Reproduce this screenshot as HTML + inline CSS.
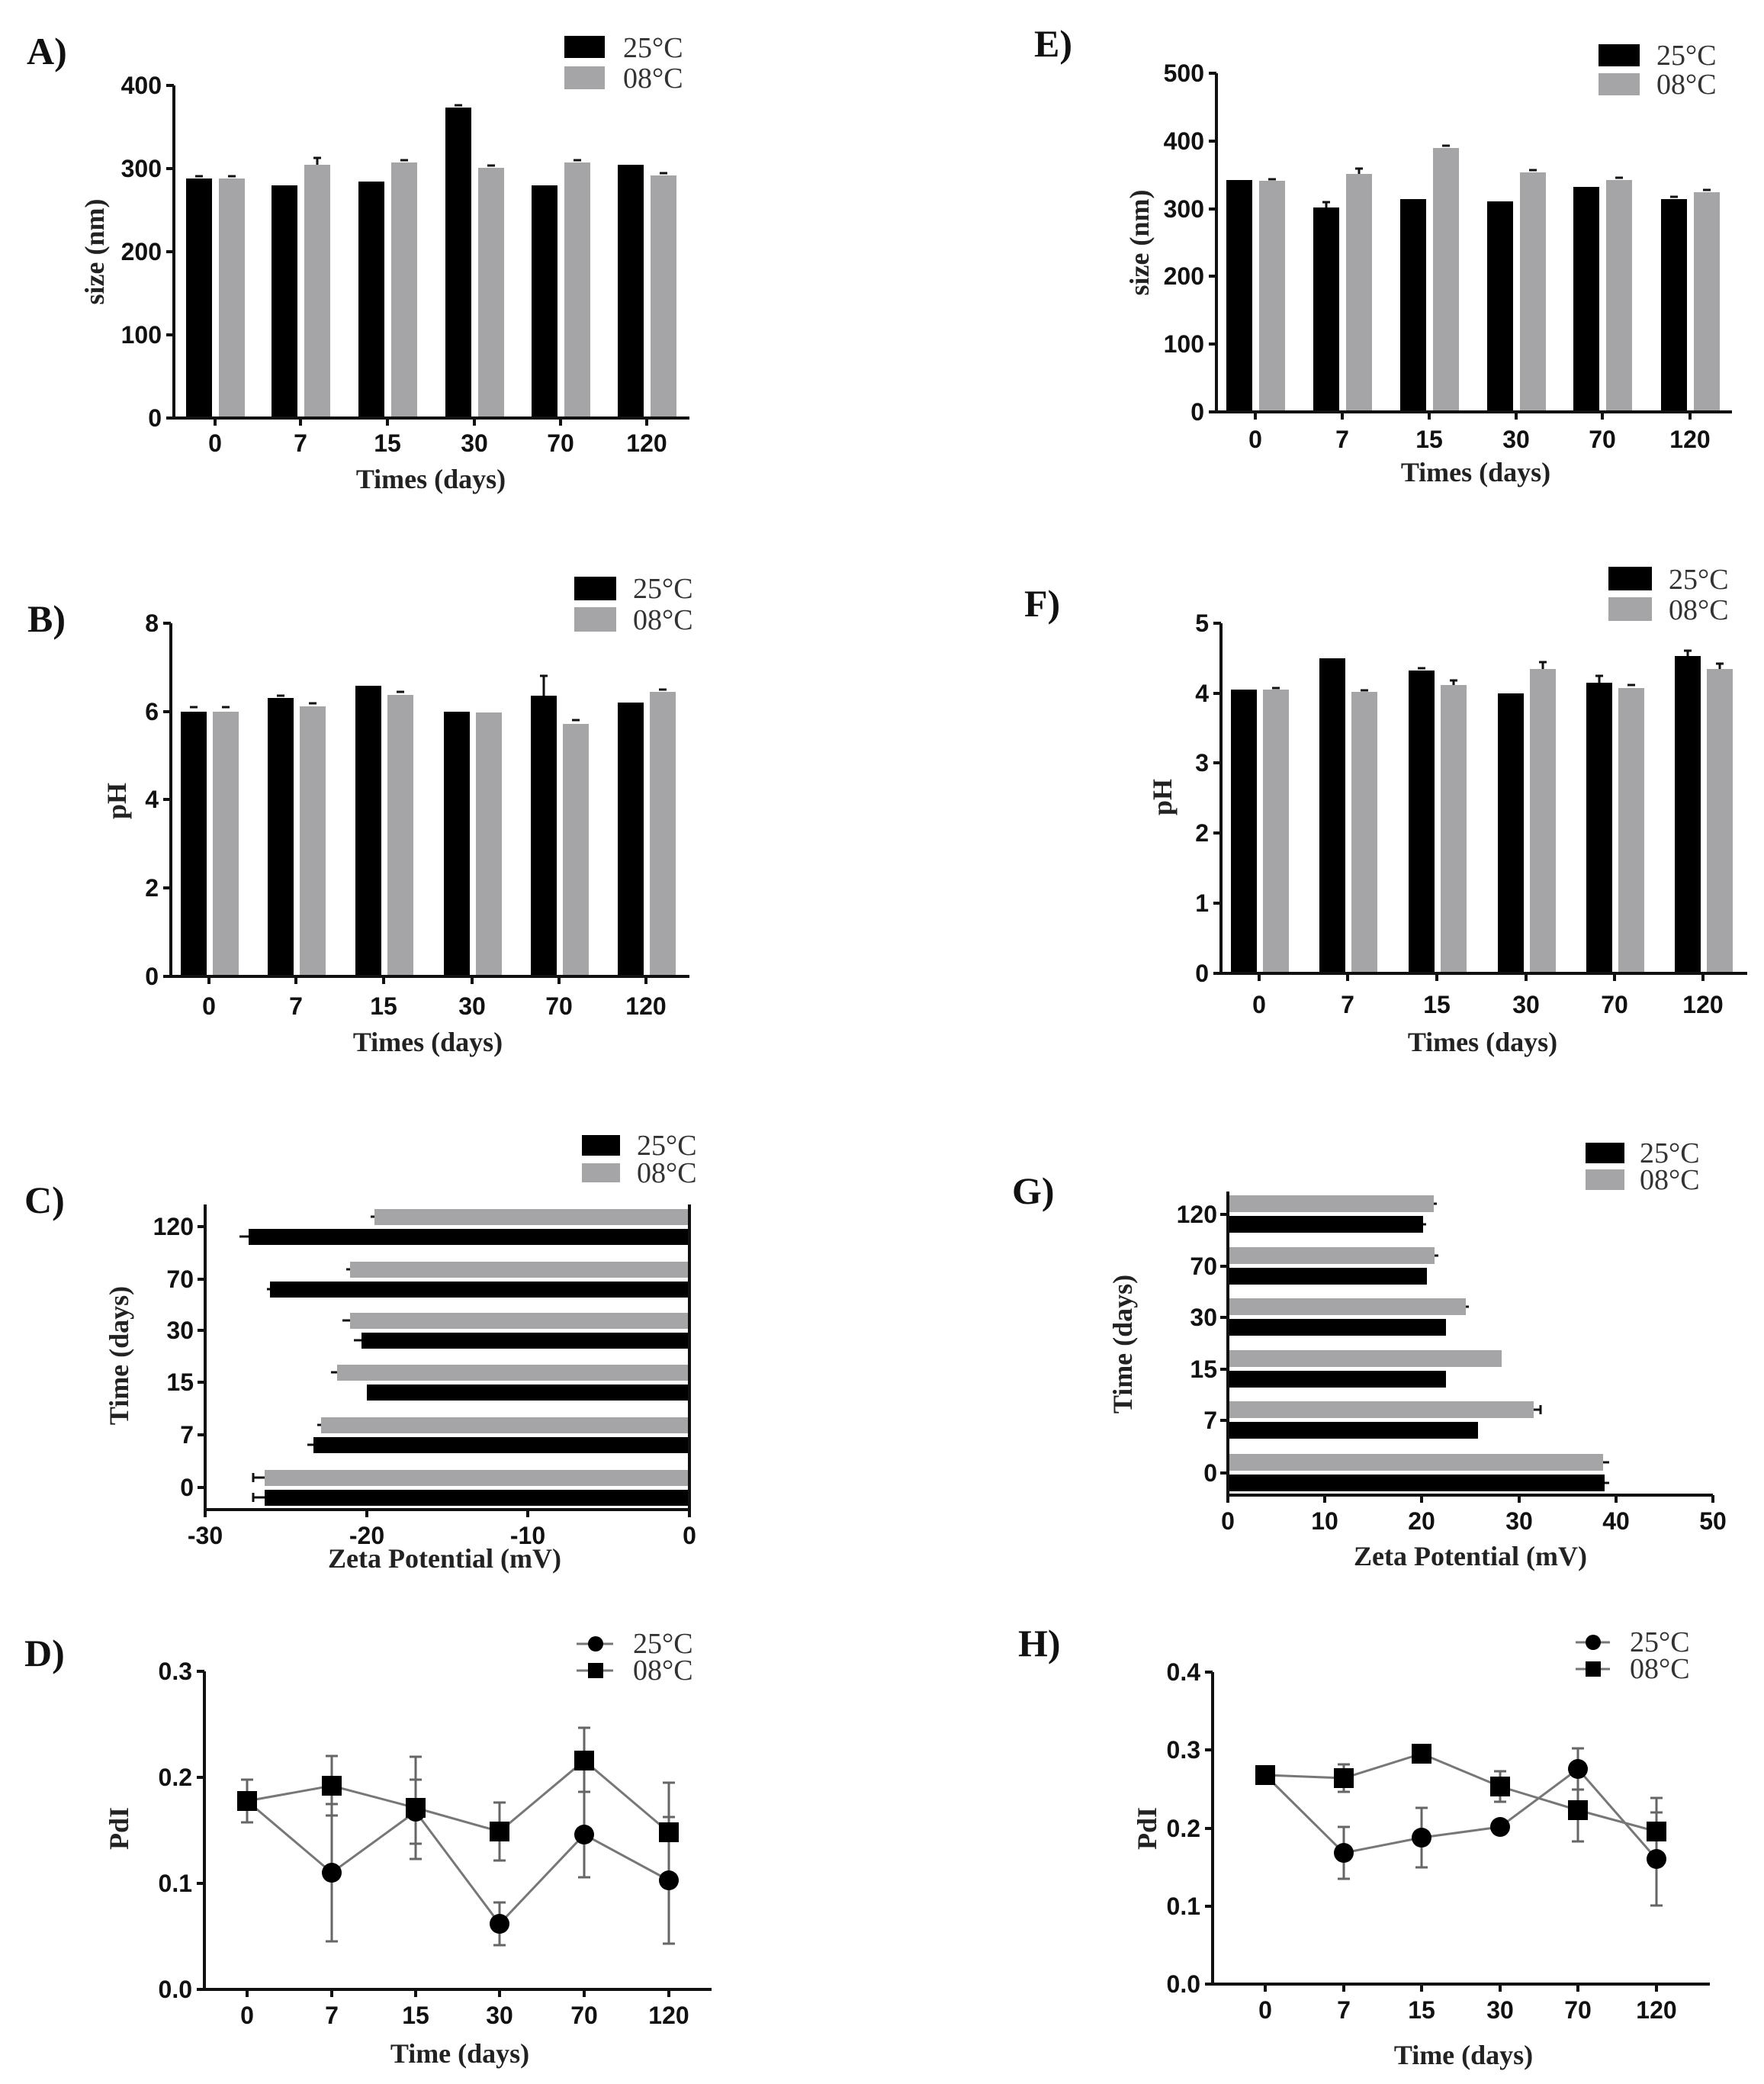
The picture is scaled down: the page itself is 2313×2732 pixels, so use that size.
<!DOCTYPE html>
<html><head><meta charset="utf-8"><style>
html,body{margin:0;padding:0;background:#fff}
svg{display:block}
.t{font-family:"Liberation Sans",sans-serif;font-weight:bold;font-size:32px;fill:#111}
.ti{font-family:"Liberation Serif",serif;font-weight:bold;font-size:36px;fill:#222}
.lg{font-family:"Liberation Serif",serif;font-size:38px;fill:#333}
.pl{font-family:"Liberation Serif",serif;font-weight:bold;font-size:50px;fill:#111}
.ax{stroke:#111;stroke-width:4;fill:none}
.e{stroke:#111;stroke-width:3}
.ln{stroke:#777;stroke-width:3;fill:none}
</style></head><body>
<svg width="2313" height="2732" viewBox="0 0 2313 2732" xmlns="http://www.w3.org/2000/svg">
<rect width="2313" height="2732" fill="#fff"/>

<!-- ============ A ============ -->
<text class="pl" x="35" y="84">A)</text>
<rect x="740" y="47" width="53" height="29" fill="#000"/><rect x="740" y="87" width="53" height="30" fill="#a5a5a7"/>
<text class="lg" x="817" y="75">25°C</text><text class="lg" x="817" y="115">08°C</text>
<g fill="#000">
<rect x="244" y="234" width="34" height="314"/><rect x="356" y="243" width="34" height="305"/><rect x="470" y="238" width="34" height="310"/>
<rect x="584" y="141" width="34" height="407"/><rect x="697" y="243" width="34" height="305"/><rect x="810" y="216" width="34" height="332"/>
</g>
<g fill="#a5a5a7">
<rect x="287" y="234" width="34" height="314"/><rect x="399" y="216" width="34" height="332"/><rect x="513" y="213" width="34" height="335"/>
<rect x="627" y="220" width="34" height="328"/><rect x="740" y="213" width="34" height="335"/><rect x="853" y="230" width="34" height="318"/>
</g>
<g class="e">
<line x1="256" y1="231" x2="266" y2="231"/><line x1="299" y1="231" x2="309" y2="231"/>
<line x1="411" y1="207" x2="421" y2="207"/><line x1="416" y1="207" x2="416" y2="216"/>
<line x1="596" y1="138" x2="606" y2="138"/><line x1="525" y1="210" x2="535" y2="210"/>
<line x1="639" y1="217" x2="649" y2="217"/><line x1="752" y1="210" x2="762" y2="210"/><line x1="865" y1="227" x2="875" y2="227"/>
</g>
<path class="ax" d="M228,112 V548 M218,548 H904 M218,112 H228 M218,221 H228 M218,330 H228 M218,439 H228 M282,548 V558 M394,548 V558 M508,548 V558 M622,548 V558 M735,548 V558 M848,548 V558"/>
<g class="t" text-anchor="end"><text x="212" y="559">0</text><text x="212" y="450">100</text><text x="212" y="341">200</text><text x="212" y="232">300</text><text x="212" y="123">400</text></g>
<g class="t" text-anchor="middle"><text x="282" y="592">0</text><text x="394" y="592">7</text><text x="508" y="592">15</text><text x="622" y="592">30</text><text x="735" y="592">70</text><text x="848" y="592">120</text></g>
<text class="ti" x="565" y="640" text-anchor="middle">Times (days)</text>
<text class="ti" transform="translate(136,330) rotate(-90)" text-anchor="middle">size (nm)</text>

<!-- ============ B ============ -->
<text class="pl" x="36" y="828">B)</text>
<rect x="753" y="756" width="55" height="31" fill="#000"/><rect x="753" y="796" width="55" height="32" fill="#a5a5a7"/>
<text class="lg" x="830" y="784">25°C</text><text class="lg" x="830" y="825">08°C</text>
<g fill="#000">
<rect x="237" y="933" width="34" height="347"/><rect x="351" y="915" width="34" height="365"/><rect x="466" y="899" width="34" height="381"/>
<rect x="582" y="933" width="34" height="347"/><rect x="696" y="912" width="34" height="368"/><rect x="810" y="921" width="34" height="359"/>
</g>
<g fill="#a5a5a7">
<rect x="279" y="933" width="34" height="347"/><rect x="393" y="926" width="34" height="354"/><rect x="508" y="911" width="34" height="369"/>
<rect x="624" y="934" width="34" height="346"/><rect x="738" y="949" width="34" height="331"/><rect x="852" y="907" width="34" height="373"/>
</g>
<g class="e">
<line x1="249" y1="927" x2="259" y2="927"/><line x1="291" y1="927" x2="301" y2="927"/>
<line x1="363" y1="912" x2="373" y2="912"/><line x1="405" y1="922" x2="415" y2="922"/>
<line x1="520" y1="907" x2="530" y2="907"/>
<line x1="708" y1="886" x2="718" y2="886"/><line x1="713" y1="886" x2="713" y2="912"/>
<line x1="750" y1="944" x2="760" y2="944"/><line x1="864" y1="904" x2="874" y2="904"/>
</g>
<path class="ax" d="M224,817 V1280 M214,1280 H904 M214,817 H224 M214,933 H224 M214,1048 H224 M214,1164 H224 M274,1280 V1290 M388,1280 V1290 M503,1280 V1290 M619,1280 V1290 M733,1280 V1290 M847,1280 V1290"/>
<g class="t" text-anchor="end"><text x="208" y="1291">0</text><text x="208" y="1175">2</text><text x="208" y="1059">4</text><text x="208" y="944">6</text><text x="208" y="828">8</text></g>
<g class="t" text-anchor="middle"><text x="274" y="1330">0</text><text x="388" y="1330">7</text><text x="503" y="1330">15</text><text x="619" y="1330">30</text><text x="733" y="1330">70</text><text x="847" y="1330">120</text></g>
<text class="ti" x="561" y="1378" text-anchor="middle">Times (days)</text>
<text class="ti" transform="translate(165,1050) rotate(-90)" text-anchor="middle">pH</text>

<!-- ============ C ============ -->
<text class="pl" x="32" y="1590">C)</text>
<rect x="763" y="1488" width="50" height="27" fill="#000"/><rect x="763" y="1525" width="50" height="25" fill="#a5a5a7"/>
<text class="lg" x="835" y="1514">25°C</text><text class="lg" x="835" y="1550">08°C</text>
<g fill="#a5a5a7">
<rect x="491" y="1585" width="413" height="21"/><rect x="459" y="1654" width="445" height="21"/><rect x="459" y="1721" width="445" height="21"/>
<rect x="442" y="1789" width="462" height="21"/><rect x="421" y="1858" width="483" height="21"/><rect x="347" y="1927" width="557" height="21"/>
</g>
<g fill="#000">
<rect x="326" y="1611" width="578" height="21"/><rect x="354" y="1680" width="550" height="21"/><rect x="474" y="1747" width="430" height="21"/>
<rect x="481" y="1815" width="423" height="21"/><rect x="411" y="1884" width="493" height="21"/><rect x="347" y="1953" width="557" height="21"/>
</g>
<g class="e">
<line x1="486" y1="1595" x2="491" y2="1595"/><line x1="314" y1="1621" x2="326" y2="1621"/>
<line x1="454" y1="1664" x2="459" y2="1664"/><line x1="350" y1="1690" x2="354" y2="1690"/>
<line x1="449" y1="1731" x2="459" y2="1731"/><line x1="464" y1="1757" x2="474" y2="1757"/>
<line x1="434" y1="1799" x2="442" y2="1799"/><line x1="416" y1="1868" x2="421" y2="1868"/><line x1="403" y1="1894" x2="411" y2="1894"/>
<line x1="332" y1="1937" x2="347" y2="1937"/><line x1="332" y1="1963" x2="347" y2="1963"/>
<line x1="332" y1="1931" x2="332" y2="1943"/><line x1="332" y1="1957" x2="332" y2="1969"/>
</g>
<path class="ax" d="M269,1579 V1979 M269,1979 H904 M904,1579 V1989 M269,1979 V1989 M481,1979 V1989 M692,1979 V1989 M259,1608 H269 M259,1677 H269 M259,1744 H269 M259,1812 H269 M259,1881 H269 M259,1950 H269"/>
<g class="t" text-anchor="end"><text x="254" y="1619">120</text><text x="254" y="1688">70</text><text x="254" y="1755">30</text><text x="254" y="1823">15</text><text x="254" y="1892">7</text><text x="254" y="1961">0</text></g>
<g class="t" text-anchor="middle"><text x="269" y="2024">-30</text><text x="481" y="2024">-20</text><text x="692" y="2024">-10</text><text x="904" y="2024">0</text></g>
<text class="ti" x="583" y="2055" text-anchor="middle">Zeta Potential (mV)</text>
<text class="ti" transform="translate(168,1777) rotate(-90)" text-anchor="middle">Time  (days)</text>

<!-- ============ D ============ -->
<text class="pl" x="32" y="2184">D)</text>
<line class="ln" x1="756" y1="2155" x2="804" y2="2155"/><circle cx="781" cy="2155" r="10" fill="#000"/>
<line class="ln" x1="756" y1="2190" x2="804" y2="2190"/><rect x="771" y="2180" width="20" height="20" fill="#000"/>
<text class="lg" x="830" y="2167">25°C</text><text class="lg" x="830" y="2202">08°C</text>
<polyline class="ln" points="324,2361 435,2455 545,2375 655,2522 766,2405 877,2465"/>
<polyline class="ln" points="324,2361 435,2341 545,2370 655,2401 766,2308 877,2402"/>
<g stroke="#666" stroke-width="3">
<path d="M324,2333 V2389 M316,2333 H332 M316,2389 H332"/>
<path d="M435,2365 V2545 M427,2365 H443 M427,2545 H443 M435,2302 V2380 M427,2302 H443 M427,2380 H443"/>
<path d="M545,2333 V2417 M537,2333 H553 M537,2417 H553 M545,2303 V2437 M537,2303 H553 M537,2437 H553"/>
<path d="M655,2494 V2550 M647,2494 H663 M647,2550 H663 M655,2363 V2439 M647,2363 H663 M647,2439 H663"/>
<path d="M766,2349 V2461 M758,2349 H774 M758,2461 H774 M766,2265 V2351 M758,2265 H774"/>
<path d="M877,2382 V2548 M869,2382 H885 M869,2548 H885 M877,2337 V2467 M869,2337 H885"/>
</g>
<g fill="#000">
<circle cx="324" cy="2361" r="13"/><circle cx="435" cy="2455" r="13"/><circle cx="545" cy="2375" r="13"/><circle cx="655" cy="2522" r="13"/><circle cx="766" cy="2405" r="13"/><circle cx="877" cy="2465" r="13"/>
<rect x="311" y="2348" width="26" height="26"/><rect x="422" y="2328" width="26" height="26"/><rect x="532" y="2357" width="26" height="26"/><rect x="642" y="2388" width="26" height="26"/><rect x="753" y="2295" width="26" height="26"/><rect x="864" y="2389" width="26" height="26"/>
</g>
<path class="ax" d="M268,2191 V2608 M258,2608 H933 M258,2191 H268 M258,2330 H268 M258,2469 H268 M324,2608 V2618 M435,2608 V2618 M545,2608 V2618 M655,2608 V2618 M766,2608 V2618 M877,2608 V2618"/>
<g class="t" text-anchor="end"><text x="252" y="2619">0.0</text><text x="252" y="2480">0.1</text><text x="252" y="2341">0.2</text><text x="252" y="2202">0.3</text></g>
<g class="t" text-anchor="middle"><text x="324" y="2653">0</text><text x="435" y="2653">7</text><text x="545" y="2653">15</text><text x="655" y="2653">30</text><text x="766" y="2653">70</text><text x="877" y="2653">120</text></g>
<text class="ti" x="603" y="2704" text-anchor="middle">Time  (days)</text>
<text class="ti" transform="translate(168,2397) rotate(-90)" text-anchor="middle">PdI</text>

<!-- ============ E ============ -->
<text class="pl" x="1356" y="74">E)</text>
<rect x="2096" y="58" width="54" height="29" fill="#000"/><rect x="2096" y="96" width="54" height="29" fill="#a5a5a7"/>
<text class="lg" x="2172" y="85">25°C</text><text class="lg" x="2172" y="123">08°C</text>
<g fill="#000">
<rect x="1608" y="236" width="34" height="304"/><rect x="1722" y="272" width="34" height="268"/><rect x="1836" y="261" width="34" height="279"/>
<rect x="1950" y="264" width="34" height="276"/><rect x="2063" y="245" width="34" height="295"/><rect x="2178" y="261" width="34" height="279"/>
</g>
<g fill="#a5a5a7">
<rect x="1651" y="237" width="34" height="303"/><rect x="1765" y="228" width="34" height="312"/><rect x="1879" y="194" width="34" height="346"/>
<rect x="1993" y="226" width="34" height="314"/><rect x="2106" y="236" width="34" height="304"/><rect x="2221" y="252" width="34" height="288"/>
</g>
<g class="e">
<line x1="1734" y1="265" x2="1744" y2="265"/><line x1="1739" y1="265" x2="1739" y2="272"/>
<line x1="1777" y1="221" x2="1787" y2="221"/><line x1="1782" y1="221" x2="1782" y2="228"/>
<line x1="1891" y1="191" x2="1901" y2="191"/><line x1="2005" y1="223" x2="2015" y2="223"/>
<line x1="2118" y1="233" x2="2128" y2="233"/><line x1="2190" y1="258" x2="2200" y2="258"/><line x1="2233" y1="249" x2="2243" y2="249"/>
<line x1="1663" y1="235" x2="1673" y2="235"/>
</g>
<path class="ax" d="M1595,96 V540 M1585,540 H2271 M1585,96 H1595 M1585,185 H1595 M1585,274 H1595 M1585,362 H1595 M1585,451 H1595 M1646,540 V550 M1760,540 V550 M1874,540 V550 M1988,540 V550 M2101,540 V550 M2216,540 V550"/>
<g class="t" text-anchor="end"><text x="1579" y="551">0</text><text x="1579" y="462">100</text><text x="1579" y="373">200</text><text x="1579" y="285">300</text><text x="1579" y="196">400</text><text x="1579" y="107">500</text></g>
<g class="t" text-anchor="middle"><text x="1646" y="587">0</text><text x="1760" y="587">7</text><text x="1874" y="587">15</text><text x="1988" y="587">30</text><text x="2101" y="587">70</text><text x="2216" y="587">120</text></g>
<text class="ti" x="1935" y="631" text-anchor="middle">Times (days)</text>
<text class="ti" transform="translate(1506,318) rotate(-90)" text-anchor="middle">size (nm)</text>

<!-- ============ F ============ -->
<text class="pl" x="1343" y="808">F)</text>
<rect x="2109" y="743" width="57" height="31" fill="#000"/><rect x="2109" y="783" width="57" height="31" fill="#a5a5a7"/>
<text class="lg" x="2188" y="772">25°C</text><text class="lg" x="2188" y="812">08°C</text>
<g fill="#000">
<rect x="1614" y="904" width="34" height="372"/><rect x="1730" y="863" width="34" height="413"/><rect x="1847" y="879" width="34" height="397"/>
<rect x="1964" y="909" width="34" height="367"/><rect x="2080" y="895" width="34" height="381"/><rect x="2196" y="860" width="34" height="416"/>
</g>
<g fill="#a5a5a7">
<rect x="1656" y="904" width="34" height="372"/><rect x="1772" y="907" width="34" height="369"/><rect x="1889" y="898" width="34" height="378"/>
<rect x="2006" y="877" width="34" height="399"/><rect x="2122" y="902" width="34" height="374"/><rect x="2238" y="877" width="34" height="399"/>
</g>
<g class="e">
<line x1="1668" y1="902" x2="1678" y2="902"/><line x1="1784" y1="905" x2="1794" y2="905"/>
<line x1="1859" y1="876" x2="1869" y2="876"/><line x1="1901" y1="892" x2="1911" y2="892"/><line x1="1906" y1="892" x2="1906" y2="898"/>
<line x1="2018" y1="868" x2="2028" y2="868"/><line x1="2023" y1="868" x2="2023" y2="877"/>
<line x1="2092" y1="886" x2="2102" y2="886"/><line x1="2097" y1="886" x2="2097" y2="895"/>
<line x1="2134" y1="898" x2="2144" y2="898"/>
<line x1="2208" y1="853" x2="2218" y2="853"/><line x1="2213" y1="853" x2="2213" y2="860"/>
<line x1="2250" y1="870" x2="2260" y2="870"/><line x1="2255" y1="870" x2="2255" y2="877"/>
</g>
<path class="ax" d="M1601,817 V1276 M1591,1276 H2291 M1591,817 H1601 M1591,909 H1601 M1591,1000 H1601 M1591,1092 H1601 M1591,1184 H1601 M1651,1276 V1286 M1767,1276 V1286 M1884,1276 V1286 M2001,1276 V1286 M2117,1276 V1286 M2233,1276 V1286"/>
<g class="t" text-anchor="end"><text x="1585" y="1287">0</text><text x="1585" y="1195">1</text><text x="1585" y="1103">2</text><text x="1585" y="1011">3</text><text x="1585" y="920">4</text><text x="1585" y="828">5</text></g>
<g class="t" text-anchor="middle"><text x="1651" y="1328">0</text><text x="1767" y="1328">7</text><text x="1884" y="1328">15</text><text x="2001" y="1328">30</text><text x="2117" y="1328">70</text><text x="2233" y="1328">120</text></g>
<text class="ti" x="1944" y="1378" text-anchor="middle">Times (days)</text>
<text class="ti" transform="translate(1536,1045) rotate(-90)" text-anchor="middle">pH</text>

<!-- ============ G ============ -->
<text class="pl" x="1327" y="1578">G)</text>
<rect x="2079" y="1498" width="51" height="27" fill="#000"/><rect x="2079" y="1533" width="51" height="27" fill="#a5a5a7"/>
<text class="lg" x="2150" y="1524">25°C</text><text class="lg" x="2150" y="1559">08°C</text>
<g fill="#a5a5a7">
<rect x="1610" y="1567" width="270" height="22"/><rect x="1610" y="1635" width="271" height="22"/><rect x="1610" y="1702" width="312" height="22"/>
<rect x="1610" y="1770" width="359" height="22"/><rect x="1610" y="1837" width="401" height="22"/><rect x="1610" y="1906" width="492" height="22"/>
</g>
<g fill="#000">
<rect x="1610" y="1594" width="256" height="22"/><rect x="1610" y="1662" width="261" height="22"/><rect x="1610" y="1729" width="286" height="22"/>
<rect x="1610" y="1797" width="286" height="22"/><rect x="1610" y="1864" width="328" height="22"/><rect x="1610" y="1933" width="494" height="22"/>
</g>
<g class="e">
<line x1="1880" y1="1578" x2="1884" y2="1578"/><line x1="1866" y1="1605" x2="1870" y2="1605"/>
<line x1="1881" y1="1646" x2="1886" y2="1646"/><line x1="1922" y1="1713" x2="1926" y2="1713"/>
<line x1="2011" y1="1848" x2="2020" y2="1848"/><line x1="2020" y1="1842" x2="2020" y2="1854"/>
<line x1="2102" y1="1917" x2="2110" y2="1917"/><line x1="2104" y1="1944" x2="2110" y2="1944"/>
</g>
<path class="ax" d="M1610,1562 V1960 M1610,1960 H2246 M1600,1592 H1610 M1600,1660 H1610 M1600,1727 H1610 M1600,1795 H1610 M1600,1862 H1610 M1600,1931 H1610 M1610,1960 V1970 M1737,1960 V1970 M1864,1960 V1970 M1992,1960 V1970 M2119,1960 V1970 M2246,1960 V1970"/>
<g class="t" text-anchor="end"><text x="1596" y="1603">120</text><text x="1596" y="1671">70</text><text x="1596" y="1738">30</text><text x="1596" y="1806">15</text><text x="1596" y="1873">7</text><text x="1596" y="1942">0</text></g>
<g class="t" text-anchor="middle"><text x="1610" y="2005">0</text><text x="1737" y="2005">10</text><text x="1864" y="2005">20</text><text x="1992" y="2005">30</text><text x="2119" y="2005">40</text><text x="2246" y="2005">50</text></g>
<text class="ti" x="1928" y="2052" text-anchor="middle">Zeta Potential (mV)</text>
<text class="ti" transform="translate(1484,1762) rotate(-90)" text-anchor="middle">Time  (days)</text>

<!-- ============ H ============ -->
<text class="pl" x="1335" y="2171">H)</text>
<line class="ln" x1="2066" y1="2153" x2="2111" y2="2153"/><circle cx="2089" cy="2153" r="10" fill="#000"/>
<line class="ln" x1="2066" y1="2188" x2="2111" y2="2188"/><rect x="2079" y="2178" width="20" height="20" fill="#000"/>
<text class="lg" x="2137" y="2165">25°C</text><text class="lg" x="2137" y="2200">08°C</text>
<polyline class="ln" points="1659,2327 1762,2429 1864,2409 1967,2395 2069,2319 2172,2437"/>
<polyline class="ln" points="1659,2327 1762,2331 1864,2299 1967,2342 2069,2373 2172,2401"/>
<g stroke="#666" stroke-width="3">
<path d="M1762,2395 V2463 M1754,2395 H1770 M1754,2463 H1770 M1762,2313 V2349 M1754,2313 H1770 M1754,2349 H1770"/>
<path d="M1864,2370 V2448 M1856,2370 H1872 M1856,2448 H1872"/>
<path d="M1967,2322 V2362 M1959,2322 H1975 M1959,2362 H1975"/>
<path d="M2069,2292 V2346 M2061,2292 H2077 M2061,2346 H2077 M2069,2332 V2414 M2061,2414 H2077"/>
<path d="M2172,2376 V2498 M2164,2376 H2180 M2164,2498 H2180 M2172,2357 V2445 M2164,2357 H2180"/>
</g>
<g fill="#000">
<circle cx="1659" cy="2327" r="13"/><circle cx="1762" cy="2429" r="13"/><circle cx="1864" cy="2409" r="13"/><circle cx="1967" cy="2395" r="13"/><circle cx="2069" cy="2319" r="13"/><circle cx="2172" cy="2437" r="13"/>
<rect x="1646" y="2314" width="26" height="26"/><rect x="1749" y="2318" width="26" height="26"/><rect x="1851" y="2286" width="26" height="26"/><rect x="1954" y="2329" width="26" height="26"/><rect x="2056" y="2360" width="26" height="26"/><rect x="2159" y="2388" width="26" height="26"/>
</g>
<path class="ax" d="M1590,2192 V2601 M1580,2601 H2242 M1580,2192 H1590 M1580,2294 H1590 M1580,2397 H1590 M1580,2499 H1590 M1659,2601 V2611 M1762,2601 V2611 M1864,2601 V2611 M1967,2601 V2611 M2069,2601 V2611 M2172,2601 V2611"/>
<g class="t" text-anchor="end"><text x="1574" y="2612">0.0</text><text x="1574" y="2510">0.1</text><text x="1574" y="2408">0.2</text><text x="1574" y="2305">0.3</text><text x="1574" y="2203">0.4</text></g>
<g class="t" text-anchor="middle"><text x="1659" y="2646">0</text><text x="1762" y="2646">7</text><text x="1864" y="2646">15</text><text x="1967" y="2646">30</text><text x="2069" y="2646">70</text><text x="2172" y="2646">120</text></g>
<text class="ti" x="1919" y="2706" text-anchor="middle">Time  (days)</text>
<text class="ti" transform="translate(1516,2397) rotate(-90)" text-anchor="middle">PdI</text>
</svg>
</body></html>
